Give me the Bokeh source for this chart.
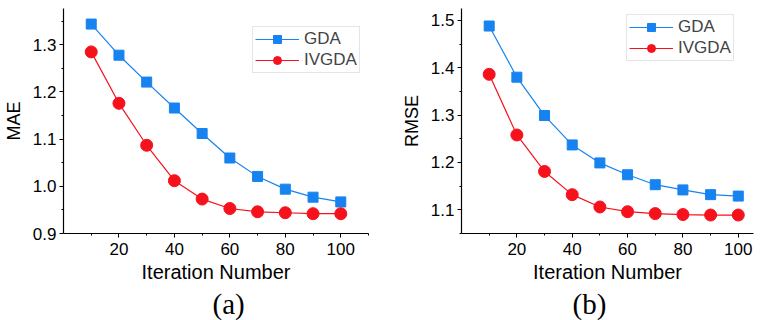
from bokeh.plotting import figure
from bokeh.layouts import row
from bokeh.models import FixedTicker, NumeralTickFormatter, Range1d, Title, Legend
from bokeh.embed import file_html
from bokeh.resources import INLINE

iterations = [10, 20, 30, 40, 50, 60, 70, 80, 90, 100]
mae_gda = [1.344, 1.278, 1.221, 1.166, 1.112, 1.060, 1.021, 0.994, 0.977, 0.967]
mae_ivgda = [1.285, 1.176, 1.087, 1.012, 0.973, 0.953, 0.946, 0.944, 0.942, 0.942]
rmse_gda = [1.488, 1.380, 1.299, 1.237, 1.199, 1.174, 1.153, 1.142, 1.132, 1.129]
rmse_ivgda = [1.386, 1.258, 1.181, 1.132, 1.106, 1.096, 1.092, 1.090, 1.089, 1.089]
x_major = [20, 40, 60, 80, 100]
x_minor = [10, 30, 50, 70, 90, 110]
mae_major = [0.9, 1.0, 1.1, 1.2, 1.3]
mae_minor = [0.95, 1.05, 1.15, 1.25, 1.35]
rmse_major = [1.1, 1.2, 1.3, 1.4, 1.5]
rmse_minor = [1.05, 1.15, 1.25, 1.35, 1.45]

BLUE = "#1683f0"
RED = "#f5121c"
SANS = "Liberation Sans"


def panel(width, left, right, xmax, yr, ymaj, ymin, ylabel, gda, ivgda, caption, cap_off, leg_loc):
    p = figure(width=width, height=320, output_backend="svg", toolbar_location=None,
               x_range=Range1d(0, xmax), y_range=Range1d(*yr),
               min_border_left=left, min_border_right=right, min_border_top=8,
               min_border_bottom=87)
    p.outline_line_color = None
    p.xgrid.visible = False
    p.ygrid.visible = False
    p.background_fill_color = "white"
    p.border_fill_color = "white"

    p.xaxis.ticker = FixedTicker(ticks=x_major, minor_ticks=x_minor)
    p.yaxis.ticker = FixedTicker(ticks=ymaj, minor_ticks=ymin)
    p.yaxis.formatter = NumeralTickFormatter(format="0.0")
    for ax in (p.xaxis[0], p.yaxis[0]):
        ax.axis_line_color = "black"
        ax.axis_line_width = 1.2
        ax.major_tick_line_color = "black"
        ax.minor_tick_line_color = "black"
        ax.major_tick_in = 0
        ax.major_tick_out = 4
        ax.minor_tick_in = 0
        ax.minor_tick_out = 2
        ax.major_label_text_font = SANS
        ax.major_label_text_font_size = "17px"
        ax.major_label_text_color = "black"
        ax.axis_label_text_font = SANS
        ax.axis_label_text_font_style = "normal"
        ax.axis_label_text_color = "black"
    p.xaxis.major_label_standoff = 5
    p.yaxis.major_label_standoff = 3
    p.xaxis.axis_label = "Iteration Number"
    p.xaxis.axis_label_text_font_size = "20px"
    p.xaxis.axis_label_standoff = 3
    p.yaxis.axis_label = ylabel
    p.yaxis.axis_label_text_font_size = "18px"
    p.yaxis.axis_label_standoff = 6

    l1 = p.line(iterations, gda, color=BLUE, line_width=1.2)
    s1 = p.scatter(iterations, gda, marker="square", size=10, fill_color=BLUE, line_color=BLUE)
    l2 = p.line(iterations, ivgda, color=RED, line_width=1.2)
    s2 = p.scatter(iterations, ivgda, marker="circle", size=12, fill_color=RED, line_color=RED)

    legend = Legend(items=[("GDA", [l1, s1]), ("IVGDA", [l2, s2])], location=leg_loc,
                    label_text_font=SANS, label_text_font_size="17px",
                    glyph_width=44, glyph_height=20, label_height=20,
                    label_standoff=5, spacing=1, padding=2, margin=0,
                    border_line_color="#cccccc", border_line_width=1,
                    background_fill_alpha=1)
    p.add_layout(legend, "center")

    t = Title(text=caption, align="left", offset=cap_off, text_font="Liberation Serif",
              text_font_size="29px", text_font_style="normal", text_color="black",
              standoff=0)
    p.add_layout(t, "below")
    return p


pa = panel(380, 63, 12, 110, (0.9, 1.377), mae_major, mae_minor, "MAE",
           mae_gda, mae_ivgda, "(a)", 149, (189, 160))
pb = panel(383, 81, 10, 105.5, (1.05, 1.525), rmse_major, rmse_minor, "RMSE",
           rmse_gda, rmse_ivgda, "(b)", 111, (165, 172))

layout = row(pa, pb)
open("out.html", "w").write(file_html(layout, INLINE))
